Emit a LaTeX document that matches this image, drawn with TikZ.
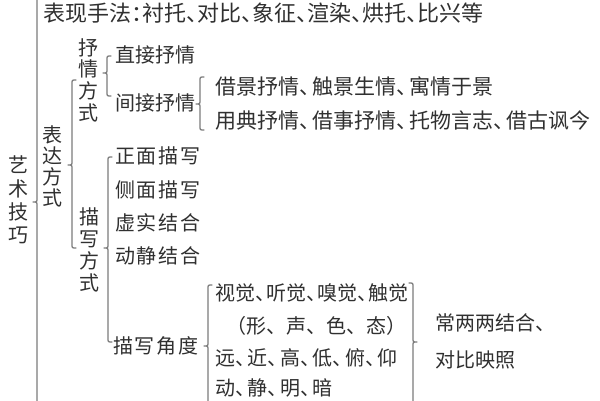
\documentclass[tikz,border=0pt]{standalone}
\usepackage{fontspec}
\newfontfamily\cjk{Noto Sans CJK SC}
\newfontfamily\cjkh[RawFeature=+halt]{Noto Sans CJK SC}
\definecolor{txt}{HTML}{303030}
\definecolor{ln}{HTML}{7C7C7C}
\newcommand{\dn}{、\kern2.5pt}
\newcommand{\ks}{\kern1.6pt}
% left brace: x, top, tip, bottom
\newcommand{\drawbraceL}[4]{%
  \draw[brc] (#1+4,#2) .. controls (#1,#2) .. (#1,#2+4) -- (#1,#3-4)
    .. controls (#1,#3) .. (#1-4,#3) .. controls (#1,#3) .. (#1,#3+4)
    -- (#1,#4-4) .. controls (#1,#4) .. (#1+4,#4);}
% right brace: x, top, tip, bottom
\newcommand{\drawbraceR}[4]{%
  \draw[brc] (#1-4,#2) .. controls (#1,#2) .. (#1,#2+4) -- (#1,#3-4)
    .. controls (#1,#3) .. (#1+4,#3) .. controls (#1,#3) .. (#1,#3+4)
    -- (#1,#4-4) .. controls (#1,#4) .. (#1-4,#4);}
\begin{document}
\begin{tikzpicture}[x=1pt,y=-1pt,
  brc/.style={draw=ln,line width=1.3pt,line cap=round,line join=round},
  ht/.style={anchor=west,inner sep=0pt,text=txt},
  htr/.style={anchor=east,inner sep=0pt,text=txt},
  vt/.style={align=center,inner sep=0pt,text=txt},
  f20/.style={font=\cjk\fontsize{20}{20}\selectfont},
  f20h/.style={font=\cjkh\fontsize{20}{20}\selectfont},
  f21h/.style={font=\cjkh\fontsize{21}{21}\selectfont},
  f22h/.style={font=\cjkh\fontsize{22}{22}\selectfont}]
\useasboundingbox (0,0) rectangle (600,400);
\clip (0,0) rectangle (600,400);
\fill[white] (0,0) rectangle (600,400);

% braces
\drawbraceL{37}{-20}{202}{420}
\drawbraceL{72}{80}{165}{248}
\drawbraceL{107}{56}{73}{96}
\drawbraceL{200}{77}{104}{130}
\drawbraceL{108}{157}{248}{342}
\drawbraceL{208}{285}{346}{420}
\drawbraceR{413}{283}{342}{420}

% vertical labels
\node[vt,font=\cjk\fontsize{20}{23.3}\selectfont] (yishu) at (19,200) {艺\\术\\技\\巧};
\node[vt,font=\cjk\fontsize{20}{21}\selectfont] (biaoda) at (52,166) {表\\达\\方\\式};
\node[vt,font=\cjk\fontsize{20}{21.7}\selectfont] (shuqing) at (88,80) {抒\\情\\方\\式};
\node[vt,font=\cjk\fontsize{20}{22}\selectfont] (miaoxie) at (89,250) {描\\写\\方\\式};

% top line
\node[ht,f22h] (top) at (43,13) {表现手法：衬托、对比、象征、渲染、烘托、比兴等};

% 抒情方式
\node[ht,f20] (zhijie) at (115,55) {直接抒情};
\node[ht,f20] (jianjie) at (115,103) {间接抒情};
\node[ht,f21h] (jiejing) at (215,86) {借景抒情\dn 触景生情\dn 寓情于景};
\node[ht,f21h] (yongdian) at (215,120) {用典抒情\dn 借事抒情\dn 托物言志\dn 借古讽今};

% 描写方式
\node[ht,f20] (zhengmian) at (115,156) {正\ks 面\ks 描\ks 写};
\node[ht,f20] (cemian) at (115,190) {侧\ks 面\ks 描\ks 写};
\node[ht,f20] (xushi) at (115,223) {虚\ks 实\ks 结\ks 合};
\node[ht,f20] (dongjing) at (115,256) {动\ks 静\ks 结\ks 合};
\node[ht,f20] (jiaodu) at (113,346) {描\ks 写\ks 角\ks 度};

% 描写角度 items
\node[ht,f20h] (shijue) at (215,293) {视觉、\kern1pt 听觉、\kern1pt 嗅觉、\kern1pt 触觉};
\node[htr,f20] (xing) at (407,326) {（形、声、色、态）};
\node[ht,f20h] (yuanjin) at (215,358) {远\dn 近\dn 高\dn 低\dn 俯\dn 仰};
\node[ht,f20h] (mingan) at (215,388) {动\dn 静\dn 明\dn 暗};

% right side
\node[ht,f20] (chang) at (435,323) {常两两结合、};
\node[ht,f20] (duibi) at (435,360) {对比映照};
\end{tikzpicture}
\end{document}
